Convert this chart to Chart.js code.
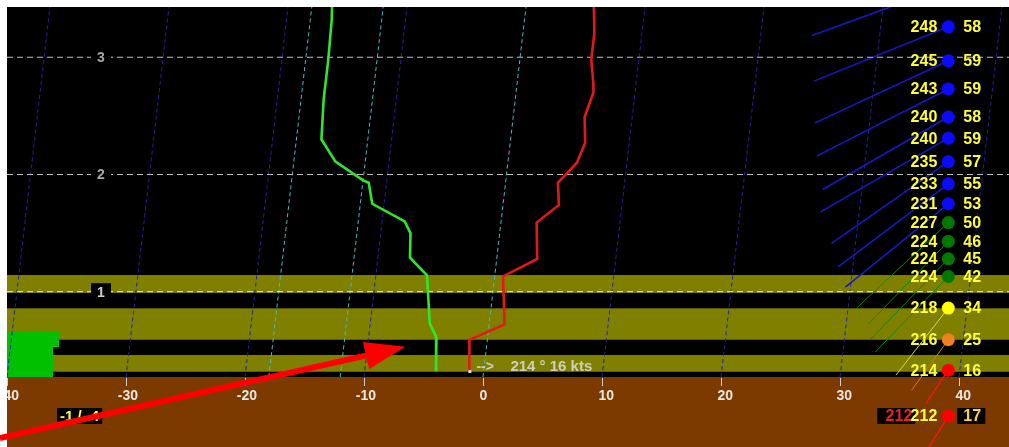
<!DOCTYPE html>
<html>
<head>
<meta charset="utf-8">
<title>Sounding profile</title>
<script src="https://cdn.jsdelivr.net/npm/chart.js@4.4.1/dist/chart.umd.min.js"></script>
<style>
  html, body { margin: 0; padding: 0; background: #ffffff; overflow: hidden; }
  canvas { display: block; }
</style>
</head>
<body>
<canvas id="sounding" width="1009" height="447"></canvas>
<script>
// ---- temperature profile (height km, °C) ----
const tempHeights = [3.43, 3.21, 2.98, 2.78, 2.70, 2.49, 2.27, 2.10, 1.93, 1.74, 1.59, 1.28, 1.13, 0.72, 0.59, 0.32];
const tempValues  = [5.7, 6.0, 6.0, 6.4, 6.5, 6.0, 6.3, 5.8, 4.4, 4.7, 3.0, 3.4, 0.7, 1.3, -1.5, -1.2];

// ---- dew point profile (height km, °C) ----
const dewHeights = [3.43, 3.32, 2.98, 2.64, 2.30, 2.11, 1.95, 1.93, 1.75, 1.60, 1.50, 1.29, 1.14, 0.73, 0.61, 0.32];
const dewValues  = [-16.3, -16.2, -16.1, -16.1, -15.9, -14.5, -12.0, -11.5, -11.0, -8.1, -7.5, -7.3, -5.7, -5.0, -4.3, -4.0];

// ---- winds aloft (height km, direction °, speed kt) ----
const windHeights = [3.61, 3.26, 2.97, 2.73, 2.49, 2.31, 2.11, 1.92, 1.75, 1.59, 1.43, 1.28, 1.13, 0.86, 0.59, 0.33];
const windDirs    = [250, 248, 245, 243, 240, 240, 235, 233, 231, 227, 224, 224, 224, 218, 216, 214];
const windSpeeds  = [58, 58, 59, 59, 58, 59, 57, 55, 53, 50, 46, 45, 42, 34, 25, 16];

// ---- surface observation ----
const sfcWindDir = 212;
const sfcWindSpeed = 17;

// ---- icing layers (bottom km, top km) ----
const icingBottoms = [0.99, 0.59, 0.317];
const icingTops    = [1.142, 0.858, 0.46];

// ---- axes ----
const xTicks = [-40, -30, -20, -10, 0, 10, 20, 30, 40];
const isotherms = [-40, -30, -20, -10, 10, 20, 30, 40];
const keyIsotherms = [-18, -12, 0];
const heightLevels = [1, 2, 3];

// ---- geometry / style ----
const X_MIN = -40, X_MAX = 44.2, Y_MIN = 0.272, Y_MAX = 3.429;
const SKEW = 1.144;               // isotherm lean, °C per km
const WIND_COL_X = 39.1;          // column holding the wind dots
const WIND_PX_PER_KT = 2.5;
const FONT = '"Liberation Sans", Arial, sans-serif';
const GROUND = '#7c3a00';
const OLIVE = '#808000';
const LABEL_YELLOW = '#ffff3c';

const skewX = (t, h) => t + SKEW * (h - Y_MIN);

function windColor(spd) {
  if (spd > 50) return '#0a0aff';
  if (spd >= 40) return '#007800';
  if (spd >= 30) return '#ffff00';
  if (spd >= 20) return '#f08020';
  return '#ff0000';
}
function windLineStyle(spd) {
  if (spd > 50) return ['#1818c8', 1.6];
  if (spd >= 40) return ['#0a8a0a', 1];
  if (spd >= 30) return ['#d8d850', 1];
  if (spd >= 20) return ['#e07818', 1];
  return ['#f01818', 1.5];
}

// ---- datasets ----
const datasets = [];

datasets.push({
  label: 'wind',
  data: windHeights.map(h => ({ x: WIND_COL_X, y: h })),
  pointRadius: 6.5,
  pointBorderWidth: 0,
  pointBackgroundColor: windSpeeds.map(windColor),
  showLine: false,
  clip: false,
  order: 0
});

datasets.push({
  label: 'temperature',
  data: tempValues.map((t, i) => ({ x: skewX(t, tempHeights[i]), y: tempHeights[i] })),
  borderColor: '#e01a1a',
  borderWidth: 2.6,
  pointRadius: 0,
  showLine: true,
  tension: 0,
  order: 1
});

datasets.push({
  label: 'dew point',
  data: dewValues.map((t, i) => ({ x: skewX(t, dewHeights[i]), y: dewHeights[i] })),
  borderColor: '#2ee62e',
  borderWidth: 2.6,
  pointRadius: 0,
  showLine: true,
  tension: 0,
  order: 1
});

const heightLineColors = { 1: '#f2f28a', 2: '#c4c4c4', 3: '#c4c4c4' };
heightLevels.forEach(h => datasets.push({
  label: 'height ' + h,
  data: [{ x: X_MIN, y: h }, { x: X_MAX, y: h }],
  borderColor: heightLineColors[h],
  borderWidth: 1,
  borderDash: [6, 4],
  pointRadius: 0,
  showLine: true,
  order: 3
}));

isotherms.forEach(t => datasets.push({
  label: 'isotherm ' + t,
  data: [{ x: t, y: Y_MIN }, { x: skewX(t, Y_MAX), y: Y_MAX }],
  borderColor: '#23239c',
  borderWidth: 1,
  borderDash: [4, 3],
  pointRadius: 0,
  showLine: true,
  order: 4
}));

keyIsotherms.forEach(t => datasets.push({
  label: 'isotherm ' + t,
  data: [{ x: t, y: Y_MIN }, { x: skewX(t, Y_MAX), y: Y_MAX }],
  borderColor: '#4cbcbc',
  borderWidth: 1,
  borderDash: [4, 3],
  pointRadius: 0,
  showLine: true,
  order: 4
}));

// ---- drawing helpers ----
function windSegment(ctx, x, y, dir, spd) {
  const r = dir * Math.PI / 180;
  const len = spd * WIND_PX_PER_KT;
  const [col, w] = windLineStyle(spd);
  ctx.save();
  ctx.strokeStyle = col;
  ctx.lineWidth = w;
  ctx.beginPath();
  ctx.moveTo(x, y);
  ctx.lineTo(x + Math.sin(r) * len, y - Math.cos(r) * len);
  ctx.stroke();
  ctx.restore();
}

const backdrop = {
  id: 'backdrop',
  beforeDraw(chart) {
    const { ctx, chartArea: a, scales: { x, y } } = chart;
    ctx.save();
    ctx.fillStyle = GROUND;
    ctx.fillRect(0, 0, chart.width, chart.height);
    ctx.fillStyle = '#000';
    ctx.fillRect(a.left, a.top, a.right - a.left, a.bottom - a.top);
    ctx.fillStyle = OLIVE;
    icingBottoms.forEach((b, i) => {
      const y0 = y.getPixelForValue(icingTops[i]);
      const y1 = y.getPixelForValue(b);
      ctx.fillRect(a.left, y0, a.right - a.left, y1 - y0);
    });
    // precipitation marker in the lowest layer
    ctx.fillStyle = '#00c000';
    ctx.fillRect(a.left, a.bottom - 45, 52, 15);
    ctx.fillRect(a.left, a.bottom - 30, 46, 30);
    ctx.restore();
  },
  beforeDatasetsDraw(chart) {
    const { ctx, scales: { x, y } } = chart;
    const cx = x.getPixelForValue(WIND_COL_X);
    windHeights.forEach((h, i) => windSegment(ctx, cx, y.getPixelForValue(h), windDirs[i], windSpeeds[i]));
  },
  afterDatasetsDraw(chart) {
    const { ctx, chartArea: a, scales: { x, y } } = chart;
    ctx.save();
    // height labels
    ctx.font = 'bold 14px ' + FONT;
    ctx.textAlign = 'center';
    ctx.textBaseline = 'middle';
    heightLevels.forEach(h => {
      const py = y.getPixelForValue(h);
      const px = a.left + 94;
      ctx.fillStyle = '#000';
      ctx.fillRect(px - 10, py - 8.5, 20, 17);
      ctx.fillStyle = h === 1 ? '#cfcfcf' : '#a8a8a8';
      ctx.fillText(String(h), px, py + 1);
    });
    // wind labels
    const cx = x.getPixelForValue(WIND_COL_X);
    ctx.font = 'bold 16px ' + FONT;
    ctx.fillStyle = LABEL_YELLOW;
    windHeights.forEach((h, i) => {
      const py = y.getPixelForValue(h);
      if (py < a.top + 6) return;
      ctx.textAlign = 'right';
      ctx.fillText(String(windDirs[i]), cx - 11, py + 1);
      ctx.textAlign = 'left';
      ctx.fillText(String(windSpeeds[i]), cx + 15, py + 1);
    });
    ctx.restore();
  },
  afterDraw(chart) {
    const { ctx, chartArea: a, scales: { x, y } } = chart;
    ctx.save();

    // temperature axis ticks and labels
    ctx.strokeStyle = '#d0d0d0';
    ctx.lineWidth = 1;
    ctx.font = 'bold 14px ' + FONT;
    ctx.fillStyle = '#e8e8e0';
    ctx.textBaseline = 'middle';
    xTicks.forEach(t => {
      const px = Math.round(x.getPixelForValue(t)) + 0.5;
      ctx.beginPath();
      ctx.moveTo(px, a.bottom + 1);
      ctx.lineTo(px, a.bottom + 9);
      ctx.stroke();
      const digits = String(Math.abs(t));
      ctx.textAlign = 'left';
      ctx.fillText(digits, px - 4, a.bottom + 19);
      if (t < 0) {
        ctx.textAlign = 'right';
        ctx.fillText('-', px - 4, a.bottom + 19);
      }
    });

    // surface temperature / dew point
    const sfcT = Math.round(tempValues[tempValues.length - 1]);
    const sfcTd = Math.round(dewValues[dewValues.length - 1]);
    const rowY = a.bottom + 39;
    ctx.font = 'bold 15px ' + FONT;
    const tdText = sfcT + ' / ' + sfcTd;
    const tdW = ctx.measureText(tdText).width;
    ctx.fillStyle = '#000';
    ctx.fillRect(57, rowY - 8, tdW + 6, 16);
    ctx.fillStyle = LABEL_YELLOW;
    ctx.textAlign = 'left';
    ctx.fillText(tdText, 60, rowY + 1);

    // surface wind row
    const cx = x.getPixelForValue(WIND_COL_X);
    windSegment(ctx, cx, rowY, sfcWindDir, sfcWindSpeed);
    ctx.font = 'bold 16px ' + FONT;
    ctx.fillStyle = '#000';
    ctx.fillRect(cx - 71, rowY - 8, 38, 16);
    ctx.fillRect(cx + 9, rowY - 8, 28, 16);
    ctx.textAlign = 'right';
    ctx.fillStyle = '#e42424';
    ctx.fillText(String(sfcWindDir), cx - 36, rowY + 1);
    ctx.fillStyle = LABEL_YELLOW;
    ctx.fillText(String(sfcWindDir), cx - 11, rowY + 1);
    ctx.textAlign = 'left';
    ctx.fillStyle = '#ffd040';
    ctx.fillText(String(sfcWindSpeed), cx + 15, rowY + 1);
    ctx.beginPath();
    ctx.fillStyle = windColor(sfcWindSpeed);
    ctx.arc(cx, rowY, 6.5, 0, Math.PI * 2);
    ctx.fill();

    // lowest-level wind note at the base of the temperature trace
    const i0 = tempValues.length - 1;
    const bx = x.getPixelForValue(skewX(tempValues[i0], tempHeights[i0]));
    const by = a.bottom - 6;
    ctx.fillStyle = '#e0e0e0';
    ctx.fillRect(bx - 1, by - 1, 3, 3);
    ctx.fillStyle = '#cfcfbe';
    ctx.font = 'bold 14px ' + FONT;
    ctx.textAlign = 'left';
    ctx.fillText('-->', bx + 7, a.bottom - 10);
    const lw = windDirs.length - 1;
    ctx.font = 'bold 15px ' + FONT;
    ctx.fillText(windDirs[lw] + ' \u00b0 ' + windSpeeds[lw] + ' kts', bx + 41, a.bottom - 10);

    // page margins
    ctx.fillStyle = '#ffffff';
    ctx.fillRect(0, 0, chart.width, a.top);
    ctx.fillRect(0, 0, a.left, chart.height);

    // pointer arrow
    const p0 = [x.getPixelForValue(-40.6), y.getPixelForValue(-0.25)];
    const p1 = [x.getPixelForValue(-6.55), y.getPixelForValue(0.53)];
    const dx = p1[0] - p0[0], dy = p1[1] - p0[1];
    const L = Math.hypot(dx, dy);
    const ux = dx / L, uy = dy / L;
    const head = 40, half = 14;
    const bxh = p1[0] - ux * head, byh = p1[1] - uy * head;
    ctx.strokeStyle = '#ff0000';
    ctx.fillStyle = '#ff0000';
    ctx.lineWidth = 6;
    ctx.beginPath();
    ctx.moveTo(p0[0], p0[1]);
    ctx.lineTo(bxh + ux * 4, byh + uy * 4);
    ctx.stroke();
    ctx.beginPath();
    ctx.moveTo(p1[0], p1[1]);
    ctx.lineTo(bxh - uy * half, byh + ux * half);
    ctx.lineTo(bxh + uy * half, byh - ux * half);
    ctx.closePath();
    ctx.fill();

    ctx.restore();
  }
};

new Chart(document.getElementById('sounding'), {
  type: 'scatter',
  data: { datasets },
  options: {
    responsive: false,
    animation: false,
    devicePixelRatio: 1,
    events: [],
    layout: { autoPadding: false, padding: { left: 7, top: 7, right: 0, bottom: 70 } },
    plugins: { legend: { display: false }, tooltip: { enabled: false } },
    scales: {
      x: { type: 'linear', min: X_MIN, max: X_MAX, display: false },
      y: { type: 'linear', min: Y_MIN, max: Y_MAX, display: false }
    }
  },
  plugins: [backdrop]
});
</script>
</body>
</html>
